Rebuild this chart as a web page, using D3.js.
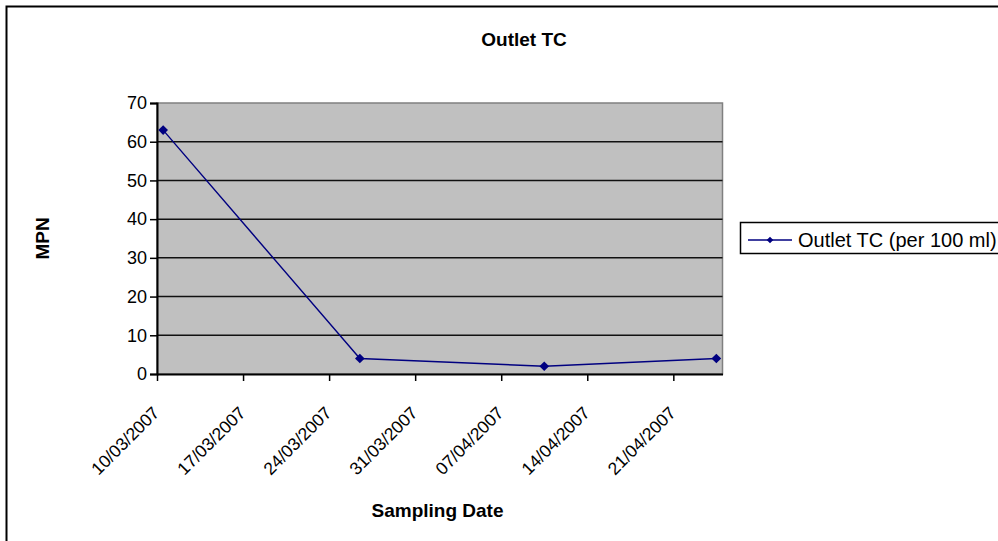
<!DOCTYPE html>
<html>
<head>
<meta charset="utf-8">
<script src="https://cdn.jsdelivr.net/npm/d3@7/dist/d3.min.js"></script>
<style>
  html, body { margin: 0; padding: 0; background: #fff; }
  svg { display: block; font-family: "Liberation Sans", Arial, sans-serif; }
</style>
</head>
<body>
<svg id="chart" width="998" height="541"></svg>
<script>
// Sampling dates (dd/mm/yyyy) and outlet total coliform counts (MPN per 100 ml)
const sampleDates = ["10/03/2007", "26/03/2007", "10/04/2007", "24/04/2007"];
const outletTC = [63, 4, 2, 4];
const yTicks = [0, 10, 20, 30, 40, 50, 60, 70];
const xTickLabels = ["10/03/2007", "17/03/2007", "24/03/2007", "31/03/2007", "07/04/2007", "14/04/2007", "21/04/2007"];
const axisStart = "10/03/2007";
const axisEnd = "25/04/2007";
const seriesName = "Outlet TC (per 100 ml)";

const parse = d3.timeParse("%d/%m/%Y");
const fmt = d3.timeFormat("%d/%m/%Y");

const svg = d3.select("#chart");
const W = 998, H = 541;
const plot = { left: 157, top: 103, right: 722.5, bottom: 374 };
const FONT = "Liberation Sans, Arial, sans-serif";

// Chart frame (runs off the right and bottom edges)
svg.append("rect")
  .attr("x", 6.5).attr("y", 6.5)
  .attr("width", W + 20).attr("height", H + 20)
  .attr("fill", "#fff").attr("stroke", "#000").attr("stroke-width", 2);

const x = d3.scaleTime()
  .domain([parse(axisStart), parse(axisEnd)])
  .range([plot.left, plot.right]);
const y = d3.scaleLinear()
  .domain([0, 70])
  .range([plot.bottom, plot.top]);

// Plot area
svg.append("rect")
  .attr("x", plot.left).attr("y", plot.top)
  .attr("width", plot.right - plot.left).attr("height", plot.bottom - plot.top)
  .attr("fill", "#c0c0c0").attr("stroke", "#808080").attr("stroke-width", 1.5);

// Horizontal gridlines
svg.append("g")
  .selectAll("line")
  .data(yTicks.filter(v => v > 0 && v < 70))
  .join("line")
  .attr("x1", plot.left).attr("x2", plot.right)
  .attr("y1", d => y(d)).attr("y2", d => y(d))
  .attr("stroke", "#111").attr("stroke-width", 1.5);

// Y axis
const yAxis = svg.append("g")
  .attr("transform", `translate(${plot.left},0)`)
  .call(d3.axisLeft(y).tickValues(yTicks).tickSize(7).tickPadding(3));
yAxis.attr("font-size", null).attr("font-family", null);
yAxis.select(".domain").attr("stroke", "#000").attr("stroke-width", 2);
yAxis.selectAll(".tick line").attr("stroke", "#000").attr("stroke-width", 1.5);
yAxis.selectAll(".tick text")
  .attr("fill", "#000")
  .style("font-size", "18px")
  .style("font-family", FONT);

// X axis (weekly date ticks)
const xAxis = svg.append("g")
  .attr("transform", `translate(0,${plot.bottom})`)
  .call(d3.axisBottom(x).tickValues(xTickLabels.map(parse)).tickFormat(fmt).tickSize(7).tickSizeOuter(0));
xAxis.attr("font-size", null).attr("font-family", null);
xAxis.select(".domain").attr("stroke", "#000").attr("stroke-width", 2);
xAxis.selectAll(".tick line").attr("stroke", "#000").attr("stroke-width", 1.5);
xAxis.selectAll(".tick text")
  .attr("fill", "#000")
  .style("font-size", "17.5px")
  .style("font-family", FONT)
  .attr("text-anchor", "end")
  .attr("dy", null)
  .attr("x", 0).attr("y", 0)
  .attr("transform", "translate(3,40) rotate(-45)");

// Series: points sit in the middle of their day
const pts = sampleDates.map((d, i) => ({ date: d3.timeHour.offset(parse(d), 12), value: outletTC[i] }));
const line = d3.line().x(d => x(d.date)).y(d => y(d.value));
svg.append("path")
  .datum(pts)
  .attr("d", line)
  .attr("fill", "none").attr("stroke", "#000080").attr("stroke-width", 1.4);

const diamond = d3.symbol().type(d3.symbolDiamond2).size(60);
svg.append("g")
  .selectAll("path")
  .data(pts)
  .join("path")
  .attr("d", diamond)
  .attr("transform", d => `translate(${x(d.date)},${y(d.value)})`)
  .attr("fill", "#000080");

// Title and axis titles
svg.append("text")
  .attr("x", 524).attr("y", 46)
  .attr("text-anchor", "middle")
  .style("font-size", "19px").attr("font-weight", "bold")
  .text("Outlet TC");

svg.append("text")
  .attr("transform", `translate(49,${(plot.top + plot.bottom) / 2}) rotate(-90)`)
  .attr("text-anchor", "middle")
  .style("font-size", "19px").attr("font-weight", "bold")
  .text("MPN");

svg.append("text")
  .attr("x", 437.5).attr("y", 517)
  .attr("text-anchor", "middle")
  .style("font-size", "19px").attr("font-weight", "bold")
  .text("Sampling Date");

// Legend
const lg = svg.append("g").attr("transform", "translate(740,222)");
lg.append("rect")
  .attr("x", 0.5).attr("y", 0.5).attr("width", 300).attr("height", 31)
  .attr("fill", "#fff").attr("stroke", "#000").attr("stroke-width", 1.5);
lg.append("line")
  .attr("x1", 8).attr("x2", 52).attr("y1", 18).attr("y2", 18)
  .attr("stroke", "#000080").attr("stroke-width", 1.4);
lg.append("path")
  .attr("d", d3.symbol().type(d3.symbolDiamond2).size(28))
  .attr("transform", "translate(30,18)")
  .attr("fill", "#000080");
lg.append("text")
  .attr("x", 58).attr("y", 25)
  .style("font-size", "20px")
  .text(seriesName);
</script>
</body>
</html>
